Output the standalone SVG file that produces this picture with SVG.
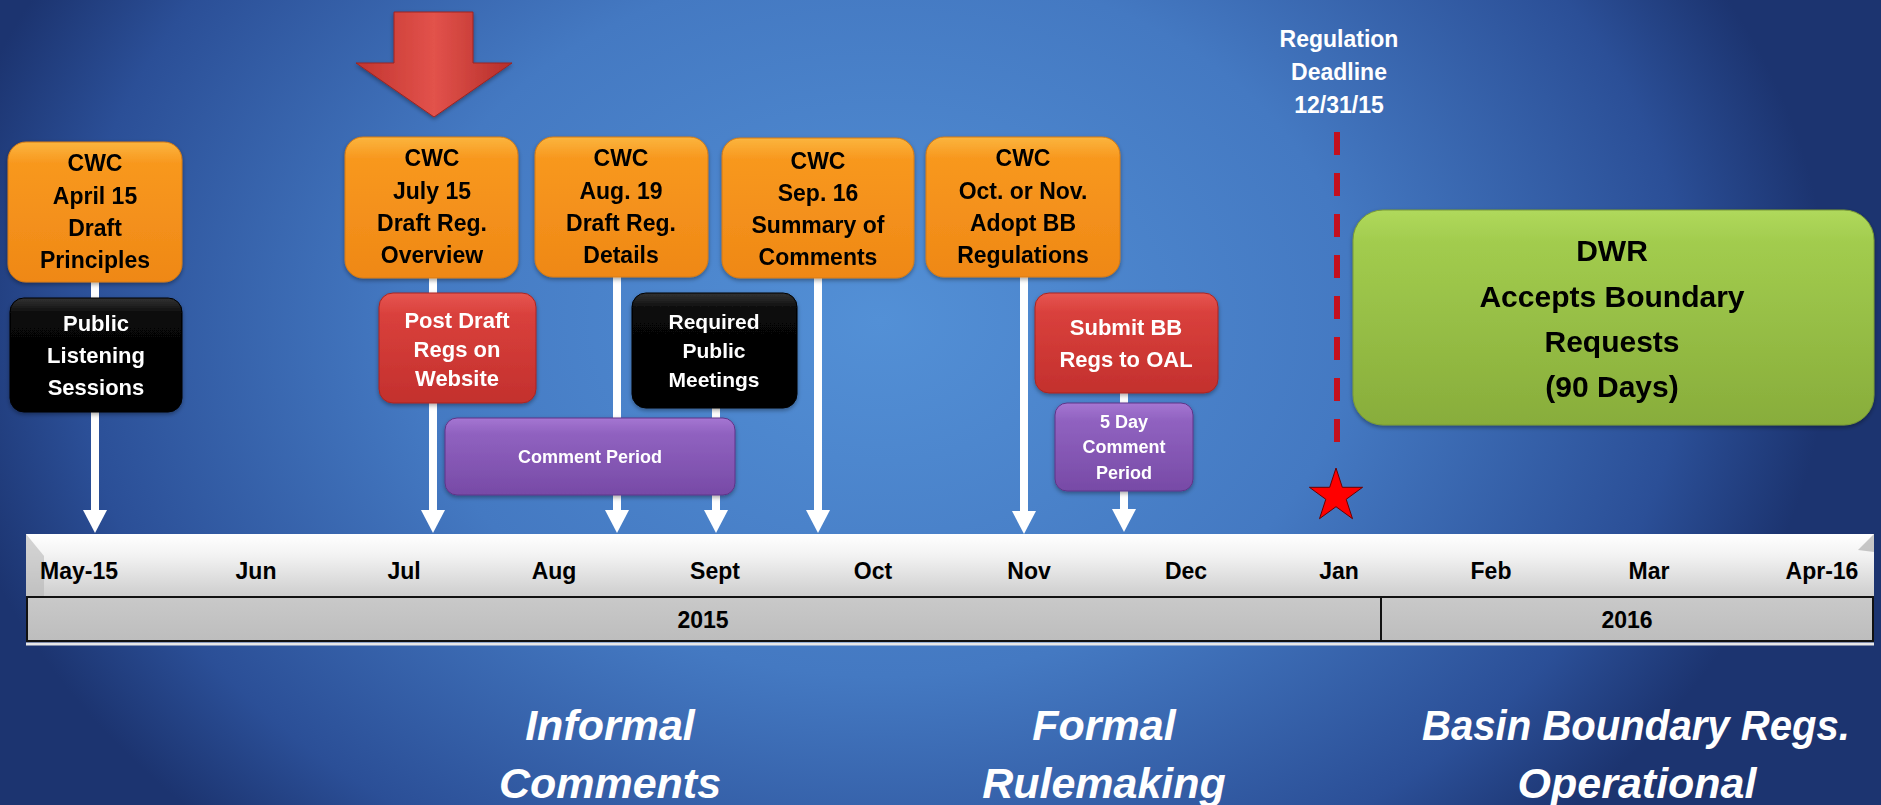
<svg xmlns="http://www.w3.org/2000/svg" width="1881" height="805" viewBox="0 0 1881 805">
<defs>
<style>
.t{font-family:"Liberation Sans",Arial,sans-serif;font-weight:bold;text-anchor:middle}
.ob{font-size:23px;fill:#000}
.wb{font-size:22px;fill:#fff}
.pb{font-size:18px;fill:#fff}
.mo{font-size:23px;fill:#000}
.ph{font-size:43px;fill:#fff;font-style:italic}
.conn{stroke:#fff;stroke-width:8;fill:none}
.org{fill:url(#gOrange);stroke:#d67a12;stroke-width:1}
.red{fill:url(#gRed);stroke:#a82522;stroke-width:1}
.blk{fill:url(#gBlack);stroke:#000;stroke-width:1}
.pur{fill:url(#gPurple);stroke:#5e3488;stroke-width:1}
</style>
<radialGradient id="gBg" gradientUnits="userSpaceOnUse" cx="880" cy="320" r="950" gradientTransform="translate(880 320) scale(1 0.75) translate(-880 -320)">
<stop offset="0" stop-color="#5390d6"/>
<stop offset="0.5" stop-color="#4479c2"/>
<stop offset="0.85" stop-color="#2b4f97"/>
<stop offset="1" stop-color="#1c3470"/>
</radialGradient>
<linearGradient id="gOrange" x1="0" y1="0" x2="0" y2="1">
<stop offset="0" stop-color="#fbb53e"/>
<stop offset="0.15" stop-color="#f8981f"/>
<stop offset="1" stop-color="#ef8816"/>
</linearGradient>
<linearGradient id="gRed" x1="0" y1="0" x2="0" y2="1">
<stop offset="0" stop-color="#e65650"/>
<stop offset="0.2" stop-color="#d9403c"/>
<stop offset="1" stop-color="#c3302d"/>
</linearGradient>
<linearGradient id="gBlack" x1="0" y1="0" x2="0" y2="1">
<stop offset="0" stop-color="#333"/>
<stop offset="0.15" stop-color="#080808"/>
<stop offset="1" stop-color="#000"/>
</linearGradient>
<linearGradient id="gPurple" x1="0" y1="0" x2="0" y2="1">
<stop offset="0" stop-color="#a576d2"/>
<stop offset="0.2" stop-color="#9062c0"/>
<stop offset="1" stop-color="#774aa6"/>
</linearGradient>
<linearGradient id="gGreen" x1="0" y1="0" x2="0" y2="1">
<stop offset="0" stop-color="#b0d95c"/>
<stop offset="0.15" stop-color="#a2cc4e"/>
<stop offset="1" stop-color="#88ad3b"/>
</linearGradient>
<linearGradient id="gArrow" x1="0" y1="0" x2="1" y2="0">
<stop offset="0" stop-color="#c23530"/>
<stop offset="0.5" stop-color="#e2524b"/>
<stop offset="1" stop-color="#b52e2a"/>
</linearGradient>
<linearGradient id="gBarTop" x1="0" y1="0" x2="0" y2="1">
<stop offset="0" stop-color="#ffffff"/>
<stop offset="0.35" stop-color="#f2f2f2"/>
<stop offset="1" stop-color="#cdcdcd"/>
</linearGradient>
<linearGradient id="gBarBot" x1="0" y1="0" x2="0" y2="1">
<stop offset="0" stop-color="#c9c9c9"/>
<stop offset="1" stop-color="#bdbdbd"/>
</linearGradient>
<marker id="ah" markerUnits="userSpaceOnUse" markerWidth="23" markerHeight="24" refX="0" refY="12" orient="auto">
<path d="M0,0 L23,12 L0,24 z" fill="#fff"/>
</marker>
<filter id="sh" x="-10%" y="-10%" width="120%" height="130%">
<feDropShadow dx="0" dy="2" stdDeviation="2" flood-color="#000" flood-opacity="0.35"/>
</filter>
</defs>

<rect x="0" y="0" width="1881" height="805" fill="url(#gBg)"/>

<g id="timeline">
<rect x="26" y="534" width="1848" height="63" fill="url(#gBarTop)"/>
<polygon points="26,534 44,556 44,597 26,597" fill="#b8b8b8" opacity="0.6"/>
<polygon points="1874,534 1858,550 1874,552" fill="#b0b0b0" opacity="0.7"/>
<rect x="26" y="597" width="1848" height="44" fill="url(#gBarBot)"/>
<line x1="26" y1="597" x2="1874" y2="597" stroke="#111" stroke-width="2"/>
<line x1="26" y1="641" x2="1874" y2="641" stroke="#111" stroke-width="2"/>
<line x1="27" y1="597" x2="27" y2="641" stroke="#111" stroke-width="2"/>
<line x1="1873" y1="597" x2="1873" y2="641" stroke="#111" stroke-width="2"/>
<line x1="1381" y1="597" x2="1381" y2="641" stroke="#111" stroke-width="2"/>
<line x1="26" y1="644" x2="1874" y2="644" stroke="#e8e8e8" stroke-width="3"/>
<text class="t mo" x="79" y="579">May-15</text>
<text class="t mo" x="256" y="579">Jun</text>
<text class="t mo" x="404" y="579">Jul</text>
<text class="t mo" x="554" y="579">Aug</text>
<text class="t mo" x="715" y="579">Sept</text>
<text class="t mo" x="873" y="579">Oct</text>
<text class="t mo" x="1029" y="579">Nov</text>
<text class="t mo" x="1186" y="579">Dec</text>
<text class="t mo" x="1339" y="579">Jan</text>
<text class="t mo" x="1491" y="579">Feb</text>
<text class="t mo" x="1649" y="579">Mar</text>
<text class="t mo" x="1822" y="579">Apr-16</text>
<text class="t mo" x="703" y="628">2015</text>
<text class="t mo" x="1627" y="628">2016</text>
</g>

<g id="connectors">
<line class="conn" x1="95" y1="280" x2="95" y2="510" marker-end="url(#ah)"/>
<line class="conn" x1="433" y1="276" x2="433" y2="510" marker-end="url(#ah)"/>
<line class="conn" x1="617" y1="276" x2="617" y2="510" marker-end="url(#ah)"/>
<line class="conn" x1="716" y1="406" x2="716" y2="510" marker-end="url(#ah)"/>
<line class="conn" x1="818" y1="276" x2="818" y2="510" marker-end="url(#ah)"/>
<line class="conn" x1="1024" y1="276" x2="1024" y2="511" marker-end="url(#ah)"/>
<line class="conn" x1="1124" y1="391" x2="1124" y2="509" marker-end="url(#ah)"/>
</g>

<g id="big-arrow">
<polygon points="394,12 473,12 473,63 512,63 434,117 356,63 394,63" fill="url(#gArrow)" stroke="#9e2420" stroke-width="1" filter="url(#sh)"/>
</g>

<g id="n-apr15" filter="url(#sh)">
<rect class="org" x="8" y="142" width="174" height="140" rx="18"/>
<text class="t ob" x="95" y="171">CWC</text>
<text class="t ob" x="95" y="204">April 15</text>
<text class="t ob" x="95" y="236">Draft</text>
<text class="t ob" x="95" y="268">Principles</text>
</g>

<g id="n-listening" filter="url(#sh)">
<rect class="blk" x="10" y="298" width="172" height="114" rx="14"/>
<text class="t wb" x="96" y="331">Public</text>
<text class="t wb" x="96" y="363">Listening</text>
<text class="t wb" x="96" y="395">Sessions</text>
</g>

<g id="n-jul15" filter="url(#sh)">
<rect class="org" x="345" y="137" width="173" height="141" rx="18"/>
<text class="t ob" x="432" y="166">CWC</text>
<text class="t ob" x="432" y="199">July 15</text>
<text class="t ob" x="432" y="231">Draft Reg.</text>
<text class="t ob" x="432" y="263">Overview</text>
</g>

<g id="n-post" filter="url(#sh)">
<rect class="red" x="379" y="293" width="157" height="110" rx="14"/>
<text class="t wb" x="457" y="328">Post Draft</text>
<text class="t wb" x="457" y="357">Regs on</text>
<text class="t wb" x="457" y="386">Website</text>
</g>

<g id="n-aug19" filter="url(#sh)">
<rect class="org" x="535" y="137" width="173" height="140" rx="18"/>
<text class="t ob" x="621" y="166">CWC</text>
<text class="t ob" x="621" y="199">Aug. 19</text>
<text class="t ob" x="621" y="231">Draft Reg.</text>
<text class="t ob" x="621" y="263">Details</text>
</g>

<g id="n-meetings" filter="url(#sh)">
<rect class="blk" x="632" y="293" width="165" height="115" rx="14"/>
<text class="t wb" x="714" y="329" style="font-size:21px">Required</text>
<text class="t wb" x="714" y="358" style="font-size:21px">Public</text>
<text class="t wb" x="714" y="387" style="font-size:21px">Meetings</text>
</g>

<g id="n-comment" filter="url(#sh)">
<rect class="pur" x="445" y="418" width="290" height="77" rx="12"/>
<text class="t pb" x="590" y="463">Comment Period</text>
</g>

<g id="n-sep16" filter="url(#sh)">
<rect class="org" x="722" y="138" width="192" height="140" rx="18"/>
<text class="t ob" x="818" y="169">CWC</text>
<text class="t ob" x="818" y="201">Sep. 16</text>
<text class="t ob" x="818" y="233">Summary of</text>
<text class="t ob" x="818" y="265">Comments</text>
</g>

<g id="n-octnov" filter="url(#sh)">
<rect class="org" x="926" y="137" width="194" height="140" rx="18"/>
<text class="t ob" x="1023" y="166">CWC</text>
<text class="t ob" x="1023" y="199">Oct. or Nov.</text>
<text class="t ob" x="1023" y="231">Adopt BB</text>
<text class="t ob" x="1023" y="263">Regulations</text>
</g>

<g id="n-submit" filter="url(#sh)">
<rect class="red" x="1035" y="293" width="183" height="100" rx="14"/>
<text class="t wb" x="1126" y="335">Submit BB</text>
<text class="t wb" x="1126" y="367">Regs to OAL</text>
</g>

<g id="n-5day" filter="url(#sh)">
<rect class="pur" x="1055" y="403" width="138" height="88" rx="12"/>
<text class="t pb" x="1124" y="428">5 Day</text>
<text class="t pb" x="1124" y="453">Comment</text>
<text class="t pb" x="1124" y="479">Period</text>
</g>

<g id="n-deadline">
<text class="t" x="1339" y="47" style="font-size:23px;fill:#fff">Regulation</text>
<text class="t" x="1339" y="80" style="font-size:23px;fill:#fff">Deadline</text>
<text class="t" x="1339" y="113" style="font-size:23px;fill:#fff">12/31/15</text>
<line x1="1337" y1="132" x2="1337" y2="448" stroke="#c4101e" stroke-width="6" stroke-dasharray="23 18"/>
<polygon points="1336,468 1342.3,487.3 1362.6,487.3 1346.2,499.3 1352.5,518.7 1336,506.7 1319.5,518.7 1325.8,499.3 1309.4,487.3 1329.7,487.3" fill="#ff0000" stroke="#6a0000" stroke-width="1"/>
</g>

<g id="n-dwr" filter="url(#sh)">
<rect x="1353" y="210" width="521" height="215" rx="30" fill="url(#gGreen)" stroke="#7a9a34" stroke-width="1"/>
<text class="t" x="1612" y="261" style="font-size:30px;fill:#000">DWR</text>
<text class="t" x="1612" y="307" style="font-size:30px;fill:#000">Accepts Boundary</text>
<text class="t" x="1612" y="352" style="font-size:30px;fill:#000">Requests</text>
<text class="t" x="1612" y="397" style="font-size:30px;fill:#000">(90 Days)</text>
</g>

<g id="phases">
<text class="t ph" x="610" y="740">Informal</text>
<text class="t ph" x="610" y="798">Comments</text>
<text class="t ph" x="1104" y="740">Formal</text>
<text class="t ph" x="1104" y="798">Rulemaking</text>
<text class="t ph" x="1636" y="740" textLength="428" lengthAdjust="spacingAndGlyphs">Basin Boundary Regs.</text>
<text class="t ph" x="1637" y="798">Operational</text>
</g>
</svg>
